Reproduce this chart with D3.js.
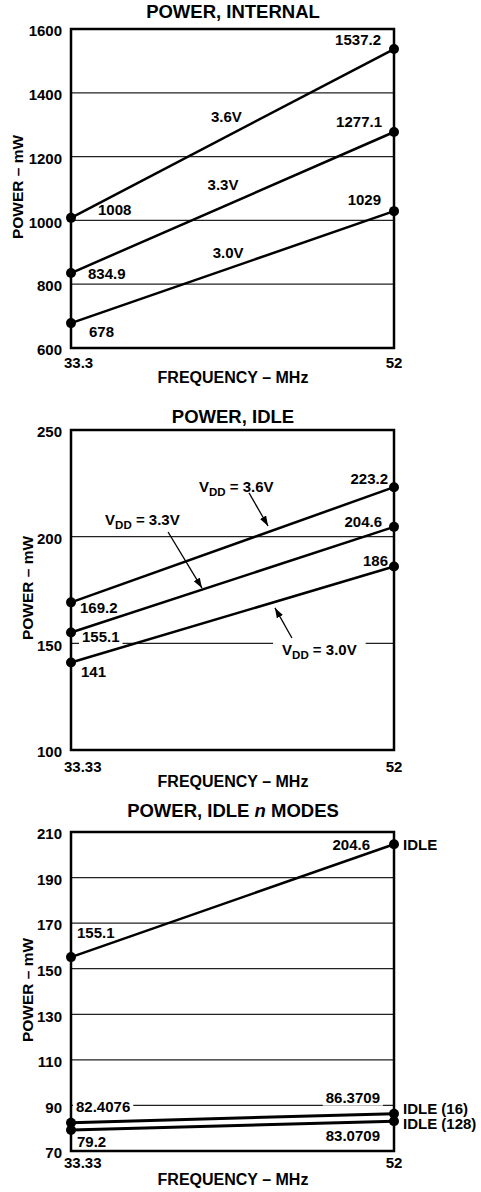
<!DOCTYPE html>
<html lang="en">
<head>
<meta charset="UTF-8">
<title>Power vs Frequency</title>
<style>
  body { margin: 0; background: #fff; }
  text { font-family: "Liberation Sans", Arial, sans-serif; font-weight: bold; fill: #000; }
</style>
<script src="https://d3js.org/d3.v7.min.js"></script>
</head>
<body>
<svg width="481" height="1192"></svg>
<script>
// ---- data ----
const freqInternal = [33.3, 52];
const internal36 = [1008, 1537.2];
const internal33 = [834.9, 1277.1];
const internal30 = [678, 1029];
const internalTicks = [600, 800, 1000, 1200, 1400, 1600];

const freqIdle = [33.33, 52];
const idle36 = [169.2, 223.2];
const idle33 = [155.1, 204.6];
const idle30 = [141, 186];
const idleTicks = [100, 150, 200, 250];

const modesIdle = [155.1, 204.6];
const modes16 = [82.4076, 86.3709];
const modes128 = [79.2, 83.0709];
const modesTicks = [70, 90, 110, 130, 150, 170, 190, 210];

const svg = d3.select("svg");
const X0 = 71, X1 = 394;

svg.append("defs").append("marker")
    .attr("id", "arrow")
    .attr("markerUnits", "userSpaceOnUse")
    .attr("markerWidth", 12).attr("markerHeight", 10)
    .attr("refX", 10).attr("refY", 3.5)
    .attr("orient", "auto")
    .append("path")
    .attr("d", "M0,0 L10,3.5 L0,7 Z")
    .attr("fill", "#000");

function drawChart(c) {
    const x = d3.scaleLinear().domain(d3.extent(c.freq)).range([X0, X1]);
    const y = d3.scaleLinear().domain(d3.extent(c.ticks)).range([c.bottom, c.top]);

    const g = svg.append("g");
    const gGrid = g.append("g"), gBg = g.append("g"), gLines = g.append("g"),
          gFrame = g.append("g"), gDots = g.append("g"), gText = g.append("g");

    // grid lines
    gGrid.selectAll("line").data(c.ticks.slice(1, -1)).enter().append("line")
        .attr("x1", X0).attr("x2", X1)
        .attr("y1", d => y(d)).attr("y2", d => y(d))
        .attr("stroke", "#222").attr("stroke-width", 1.2);

    // y axis labels
    const ya = gText.append("g").attr("transform", `translate(${X0},0)`)
        .call(d3.axisLeft(y).tickValues(c.ticks).tickSize(0).tickPadding(9).tickFormat(d3.format("d")));
    ya.select(".domain").remove();
    ya.attr("font-size", null).attr("font-family", null);
    ya.selectAll("text").attr("dy", "0.45em").style("font-size", "15px");

    // x axis labels
    const xa = gText.append("g").attr("transform", `translate(0,${c.tickY})`);
    xa.selectAll("text").data(c.freq).enter().append("text")
        .attr("x", (d, i) => i === 0 ? x(d) - 7 : x(d))
        .attr("text-anchor", (d, i) => i === 0 ? "start" : "middle")
        .style("font-size", "15px")
        .text(d => String(d));

    // titles
    const t = gText.append("text").attr("x", 233).attr("y", c.titleY)
        .attr("text-anchor", "middle").style("font-size", "18.5px");
    c.title.forEach(p => t.append("tspan").style("font-style", p.italic ? "italic" : null).text(p.s));

    gText.append("text").attr("x", 233).attr("y", c.axisTitleY)
        .attr("text-anchor", "middle").style("font-size", "16px")
        .text("FREQUENCY \u2013 MHz");

    gText.append("text")
        .attr("transform", `translate(${c.yLabelX},${c.yLabelY}) rotate(-90)`)
        .attr("text-anchor", "middle").style("font-size", "15.5px")
        .text("POWER \u2013 mW");

    const line = d3.line().x((d, i) => x(c.freq[i])).y(d => y(d));

    function addLabel(txt, px, py, o) {
        const el = gText.append("text")
            .attr("x", px + o.dx).attr("y", py + o.dy)
            .attr("text-anchor", o.anchor || "start")
            .style("font-size", "15px")
            .text(txt);
        if (o.bg) {
            const b = el.node().getBBox();
            gBg.append("rect").attr("x", b.x - 3).attr("y", b.y)
                .attr("width", b.width + 6).attr("height", b.height).attr("fill", "#fff");
        }
    }

    c.series.forEach(s => {
        gLines.append("path").datum(s.values)
            .attr("d", line).attr("fill", "none")
            .attr("stroke", "#000").attr("stroke-width", s.width || 2.5);
        gDots.selectAll(null).data(s.values).enter().append("circle")
            .attr("cx", (d, i) => x(c.freq[i])).attr("cy", d => y(d))
            .attr("r", 5).attr("fill", "#000");
        s.values.forEach((v, i) => addLabel(String(v), x(c.freq[i]), y(v), s.lab[i]));
        if (s.name) addLabel(s.name, x(c.freq[1]), y(s.values[1]), s.nameAt);
    });

    // in-plot annotations
    (c.notes || []).forEach(n => {
        const el = gText.append("text").attr("x", x(n.f)).attr("y", y(n.p))
            .attr("text-anchor", n.anchor || "start").style("font-size", "15px");
        if (n.sub) {
            el.append("tspan").text("V");
            el.append("tspan").attr("dy", 4).style("font-size", "11.5px").text("DD");
            el.append("tspan").attr("dy", -4).text(" = " + n.text);
        } else {
            el.text(n.text);
        }
        if (n.bg) {
            const b = el.node().getBBox();
            gBg.append("rect").attr("x", b.x - 9).attr("y", b.y)
                .attr("width", b.width + 18).attr("height", b.height).attr("fill", "#fff");
        }
        if (n.arrow) {
            gText.append("line")
                .attr("x1", x(n.arrow[0])).attr("y1", y(n.arrow[1]))
                .attr("x2", x(n.arrow[2])).attr("y2", y(n.arrow[3]))
                .attr("stroke", "#000").attr("stroke-width", 1.3)
                .attr("marker-end", "url(#arrow)");
        }
    });

    // frame
    gFrame.append("rect").attr("x", X0).attr("y", c.top)
        .attr("width", X1 - X0).attr("height", c.bottom - c.top)
        .attr("fill", "none").attr("stroke", "#000").attr("stroke-width", 2.5);
}

drawChart({
    freq: freqInternal, ticks: internalTicks, top: 29, bottom: 348,
    titleY: 18, tickY: 368, axisTitleY: 383, yLabelX: 23, yLabelY: 187,
    title: [{ s: "POWER, INTERNAL" }],
    series: [
        { values: internal36, lab: [{ dx: 27, dy: -3 }, { dx: -13, dy: -4, anchor: "end" }] },
        { values: internal33, lab: [{ dx: 17, dy: 6 }, { dx: -12, dy: -5, anchor: "end" }] },
        { values: internal30, lab: [{ dx: 18, dy: 14 }, { dx: -13, dy: -6, anchor: "end" }] }
    ],
    notes: [
        { text: "3.6V", f: 42.3, p: 1308, anchor: "middle" },
        { text: "3.3V", f: 42.1, p: 1095, anchor: "middle" },
        { text: "3.0V", f: 42.4, p: 882, anchor: "middle" }
    ]
});

drawChart({
    freq: freqIdle, ticks: idleTicks, top: 430, bottom: 750,
    titleY: 423, tickY: 772, axisTitleY: 787, yLabelX: 33, yLabelY: 588,
    title: [{ s: "POWER, IDLE" }],
    series: [
        { values: idle36, lab: [{ dx: 9, dy: 11 }, { dx: -6, dy: -3, anchor: "end" }] },
        { values: idle33, lab: [{ dx: 11, dy: 9.5, bg: true }, { dx: -12, dy: 0, anchor: "end" }] },
        { values: idle30, lab: [{ dx: 10, dy: 14.5 }, { dx: -6, dy: -1, anchor: "end" }] }
    ],
    notes: [
        { text: "3.6V", sub: true, f: 40.73, p: 220.9, arrow: [43.62, 220.5, 44.72, 205] },
        { text: "3.3V", sub: true, f: 35.3, p: 205.5, arrow: [38.94, 202.2, 40.9, 175.9] },
        { text: "3.0V", sub: true, f: 45.53, p: 144.5, bg: true, arrow: [46.1, 152.5, 45.12, 166.6] }
    ]
});

drawChart({
    freq: freqIdle, ticks: modesTicks, top: 832, bottom: 1151,
    titleY: 817, tickY: 1168, axisTitleY: 1185, yLabelX: 33, yLabelY: 990,
    title: [{ s: "POWER, IDLE " }, { s: "n", italic: true }, { s: " MODES" }],
    series: [
        { values: modesIdle, name: "IDLE", nameAt: { dx: 9, dy: 6 },
          lab: [{ dx: 6, dy: -19 }, { dx: -24, dy: 6, anchor: "end" }] },
        { values: modes16, name: "IDLE (16)", nameAt: { dx: 9, dy: 0 }, width: 3,
          lab: [{ dx: 5, dy: -11, bg: true }, { dx: -14, dy: -11, anchor: "end", bg: true }] },
        { values: modes128, name: "IDLE (128)", nameAt: { dx: 9, dy: 8 }, width: 3,
          lab: [{ dx: 6, dy: 17 }, { dx: -14, dy: 20, anchor: "end" }] }
    ]
});
</script>
</body>
</html>
